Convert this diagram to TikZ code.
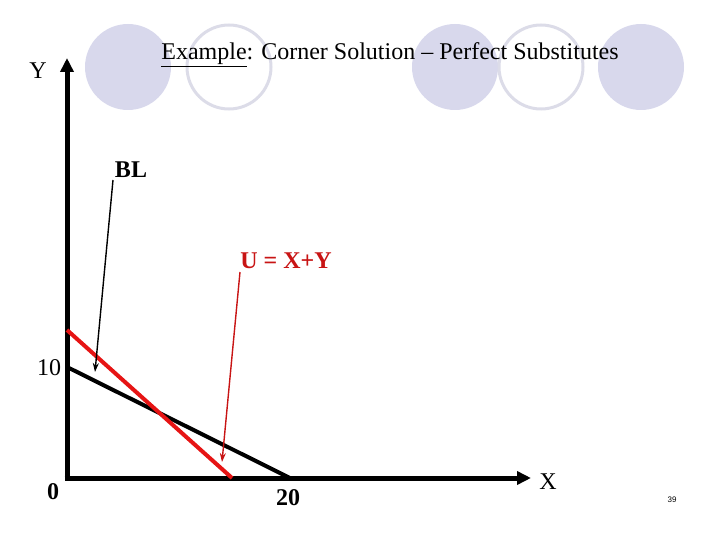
\documentclass[tikz,border=0pt]{standalone}
\usepackage{fontspec}
\setmainfont{Liberation Serif}
\newfontfamily\pagefont{Liberation Sans}
\usepackage{xcolor}
\usetikzlibrary{arrows.meta, positioning}
\definecolor{dotfill}{RGB}{216,216,236}
\definecolor{dotring}{RGB}{220,220,232}
\definecolor{ured}{RGB}{230,20,20}
\definecolor{ulabel}{RGB}{200,20,20}

\begin{document}
\begin{tikzpicture}[
  x=1pt, y=-1pt,
  dot/.style={fill=dotfill},
  ring/.style={draw=dotring, line width=3pt, fill=white},
  axis/.style={line width=5pt, -{Triangle[length=14pt, width=13pt]}},
  lbl/.style={font=\fontsize{24}{28}\selectfont, inner sep=0pt},
  tag/.style={font=\bfseries\fontsize{24}{28}\selectfont, inner sep=0pt},
  pointer/.style={-{Stealth[length=9pt, width=6pt]}, line width=1.4pt}
]
\useasboundingbox (0,0) rectangle (720,540);
% decoration circles
\foreach \cx in {128, 455, 641} \fill[dot] (\cx,67) circle (43);
\foreach \cx in {229, 541} \draw[ring] (\cx,67) circle (42);

\node[lbl] (title) at (390,55) {\underline{Example}: Corner Solution -- Perfect Substitutes};

% axes
\coordinate (origin) at (67,478);
\coordinate (ytip) at (67,58);
\coordinate (xtip) at (531,478);
\draw[axis] ([yshift=2.5pt]origin) -- (ytip);
\draw[axis] ([xshift=-2.5pt]origin) -- (xtip);
\node[lbl] (ylab) at (38,71) {Y};
\node[lbl] (xlab) at (548,482) {X};
\node[tag] (zero) at (53,492) {0};
\node[lbl] (ten) at (49,368) {10};
\node[tag] (twenty) at (288,498) {20};

% budget line and indifference curve
\coordinate (bly) at (67,367);
\coordinate (blx) at (290,478);
\coordinate (uy) at (67,330);
\coordinate (ux) at (232,478);
\draw[line width=4pt] (bly) -- (blx);
\draw[ured, line width=4pt] (uy) -- (ux);

% labels with pointers
\node[tag] (bl) at (131,170) {BL};
\node[tag, text=ulabel] (util) at (286,261) {U = X+Y};
\coordinate (blfrom) at (113,180);
\coordinate (blto) at (95,372);
\coordinate (ufrom) at (240,272);
\coordinate (uto) at (222,462);
\draw[pointer] (blfrom) -- (blto);
\draw[pointer, ulabel] (ufrom) -- (uto);

\node[font=\pagefont\fontsize{8}{10}\selectfont] (page) at (672,500) {39};
\end{tikzpicture}
\end{document}
